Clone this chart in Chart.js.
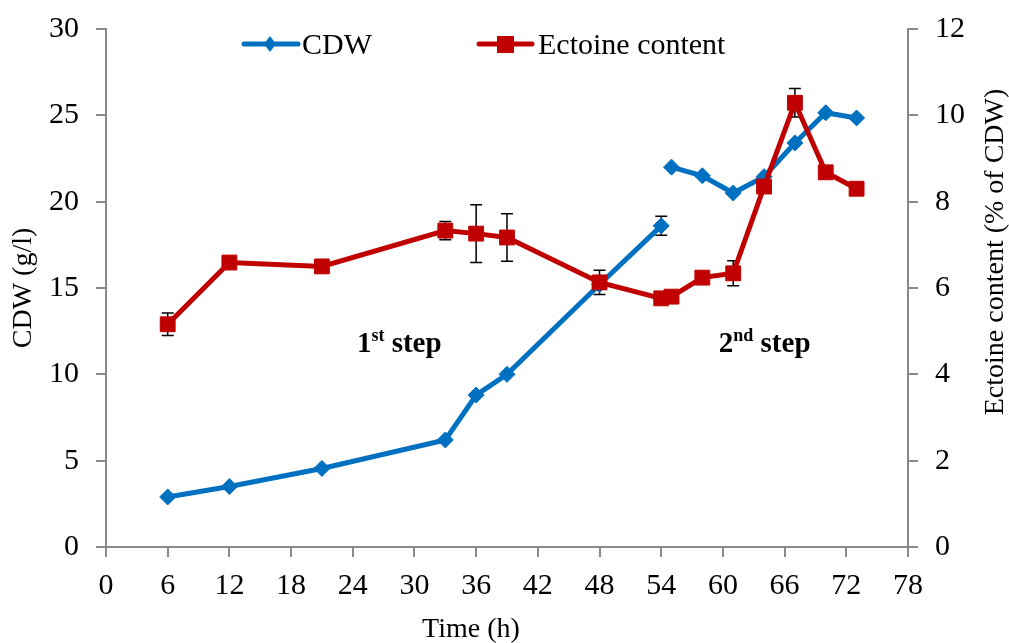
<!DOCTYPE html>
<html>
<head>
<meta charset="utf-8">
<script src="https://cdn.jsdelivr.net/npm/chart.js@4/dist/chart.umd.min.js"></script>
<style>
  html, body { margin: 0; padding: 0; background: #ffffff; }
  #wrap { position: relative; width: 1009px; height: 643px; }
</style>
</head>
<body>
<div id="wrap"><canvas id="chart"></canvas></div>
<script>
// Time axis (h) and the two measured series
const cdwTimeFirst = [6, 12, 21, 33, 36, 39, 48, 54];
const cdwFirst     = [2.9, 3.5, 4.55, 6.2, 8.8, 10.0, 15.2, 18.6];
const cdwErrFirst  = [0, 0, 0, 0, 0, 0, 0, 0.55];

const cdwTimeSecond = [55, 58, 61, 64, 67, 70, 73];
const cdwSecond     = [22.0, 21.5, 20.5, 21.45, 23.4, 25.15, 24.85];

const ectoineTime  = [6, 12, 21, 33, 36, 39, 48, 54, 55, 58, 61, 64, 67, 70, 73];
const ectoine      = [5.16, 6.59, 6.5, 7.33, 7.26, 7.17, 6.13, 5.76, 5.8, 6.24, 6.34, 8.35, 10.29, 8.68, 8.3];
const ectoineErr   = [0.26, 0, 0, 0.21, 0.67, 0.55, 0.28, 0, 0, 0, 0.29, 0, 0.33, 0, 0];

const seriesNames = ["CDW", "Ectoine content"];
const stepNames   = [["1", "st", " step"], ["2", "nd", " step"]];

const BLUE = "#0070C0";
const RED = "#C00000";
const AXIS = "#898989";
const SERIF = "'Liberation Serif', 'Times New Roman', serif";

const toPoints = (xs, ys) => xs.map((x, i) => ({ x: x, y: ys[i] }));

// black error bars with caps, drawn under the markers
const errorBars = {
    id: "errorBars",
    beforeDatasetsDraw(chart) {
        const ctx = chart.ctx;
        ctx.save();
        ctx.strokeStyle = "#000";
        ctx.lineWidth = 1.5;
        chart.data.datasets.forEach(ds => {
            if (!ds.errors) return;
            const ys = chart.scales[ds.yAxisID];
            const xs = chart.scales.x;
            ds.data.forEach((p, i) => {
                const e = ds.errors[i];
                if (!e) return;
                const px = xs.getPixelForValue(p.x);
                const top = ys.getPixelForValue(p.y + e);
                const bot = ys.getPixelForValue(p.y - e);
                ctx.beginPath();
                ctx.moveTo(px, top); ctx.lineTo(px, bot);
                ctx.moveTo(px - 6, top); ctx.lineTo(px + 6, top);
                ctx.moveTo(px - 6, bot); ctx.lineTo(px + 6, bot);
                ctx.stroke();
            });
        });
        ctx.restore();
    }
};

// legend, axis titles and step labels
const decorations = {
    id: "decorations",
    afterDraw(chart) {
        const ctx = chart.ctx;
        const { x, y } = chart.scales;
        ctx.save();

        // legend
        ctx.lineCap = "round";
        ctx.lineWidth = 5;
        ctx.strokeStyle = BLUE;
        ctx.beginPath(); ctx.moveTo(244, 44); ctx.lineTo(298, 44); ctx.stroke();
        ctx.fillStyle = BLUE;
        ctx.beginPath();
        ctx.moveTo(270, 36); ctx.lineTo(276, 44); ctx.lineTo(270, 52); ctx.lineTo(264, 44);
        ctx.closePath(); ctx.fill();
        ctx.strokeStyle = RED;
        ctx.beginPath(); ctx.moveTo(479, 44); ctx.lineTo(532, 44); ctx.stroke();
        ctx.fillStyle = RED;
        ctx.fillRect(497, 36, 17, 17);

        ctx.fillStyle = "#000";
        ctx.font = "30px " + SERIF;
        ctx.textAlign = "left";
        ctx.textBaseline = "alphabetic";
        ctx.fillText(seriesNames[0], 302, 54);
        ctx.fillText(seriesNames[1], 538, 54);

        // axis titles
        ctx.font = "28px " + SERIF;
        ctx.textAlign = "center";
        ctx.fillText("Time (h)", 471, 637);
        ctx.textBaseline = "middle";
        ctx.save();
        ctx.translate(24, 288);
        ctx.rotate(-Math.PI / 2);
        ctx.fillText("CDW (g/l)", 0, 0);
        ctx.restore();
        ctx.save();
        ctx.translate(996, 252);
        ctx.rotate(-Math.PI / 2);
        ctx.fillText("Ectoine content (% of CDW)", 0, 0);
        ctx.restore();

        // step labels with superscript
        const spots = [[24.4, 11.3], [59.6, 11.3]];
        ctx.textAlign = "left";
        ctx.textBaseline = "alphabetic";
        stepNames.forEach((parts, i) => {
            let px = x.getPixelForValue(spots[i][0]);
            const py = y.getPixelForValue(spots[i][1]);
            ctx.font = "bold 29px " + SERIF;
            ctx.fillText(parts[0], px, py);
            px += ctx.measureText(parts[0]).width;
            ctx.font = "bold 18px " + SERIF;
            ctx.fillText(parts[1], px, py - 11);
            px += ctx.measureText(parts[1]).width;
            ctx.font = "bold 29px " + SERIF;
            ctx.fillText(parts[2], px, py);
        });
        ctx.restore();
    }
};

const tickFont = { family: SERIF, size: 30, lineHeight: 0.8 };
const axisGrid = { display: true, drawOnChartArea: false, drawTicks: true, tickLength: 10, color: AXIS, lineWidth: 2 };
const axisBorder = { display: true, color: AXIS, width: 2 };

new Chart(document.getElementById("chart"), {
    type: "line",
    data: {
        datasets: [
            {
                label: seriesNames[1],
                data: toPoints(ectoineTime, ectoine),
                errors: ectoineErr,
                yAxisID: "y1",
                borderColor: RED, backgroundColor: RED,
                borderWidth: 5,
                pointStyle: "rect", pointRadius: 10.5, pointBorderWidth: 1,
                pointBackgroundColor: RED, pointBorderColor: RED,
                order: 0,
            },
            {
                label: seriesNames[0],
                data: toPoints(cdwTimeFirst, cdwFirst),
                errors: cdwErrFirst,
                yAxisID: "y",
                borderColor: BLUE, backgroundColor: BLUE,
                borderWidth: 5,
                pointStyle: "rectRot", pointRadius: 8, pointBorderWidth: 1,
                pointBackgroundColor: BLUE, pointBorderColor: BLUE,
                order: 1,
            },
            {
                label: seriesNames[0],
                data: toPoints(cdwTimeSecond, cdwSecond),
                yAxisID: "y",
                borderColor: BLUE, backgroundColor: BLUE,
                borderWidth: 5,
                pointStyle: "rectRot", pointRadius: 8, pointBorderWidth: 1,
                pointBackgroundColor: BLUE, pointBorderColor: BLUE,
                order: 1,
            }
        ]
    },
    options: {
        responsive: true, maintainAspectRatio: false,
        animation: false,
        layout: { padding: { top: 28, left: 0, right: 0, bottom: 0 } },
        elements: { line: { tension: 0 } },
        plugins: { legend: { display: false }, tooltip: { enabled: false } },
        scales: {
            x: {
                type: "linear", min: 0, max: 78,
                ticks: { stepSize: 6, color: "#000", font: tickFont, padding: 17, maxRotation: 0, autoSkip: false },
                grid: axisGrid, border: axisBorder,
                afterFit: s => { s.height = 96; }
            },
            y: {
                position: "left", min: 0, max: 30,
                ticks: { stepSize: 5, color: "#000", font: tickFont, padding: 17 },
                grid: axisGrid, border: axisBorder,
                afterFit: s => { s.width = 106; }
            },
            y1: {
                position: "right", min: 0, max: 12,
                ticks: { stepSize: 2, color: "#000", font: tickFont, padding: 17 },
                grid: axisGrid, border: axisBorder,
                afterFit: s => { s.width = 101; }
            }
        }
    },
    plugins: [errorBars, decorations]
});
</script>
</body>
</html>
